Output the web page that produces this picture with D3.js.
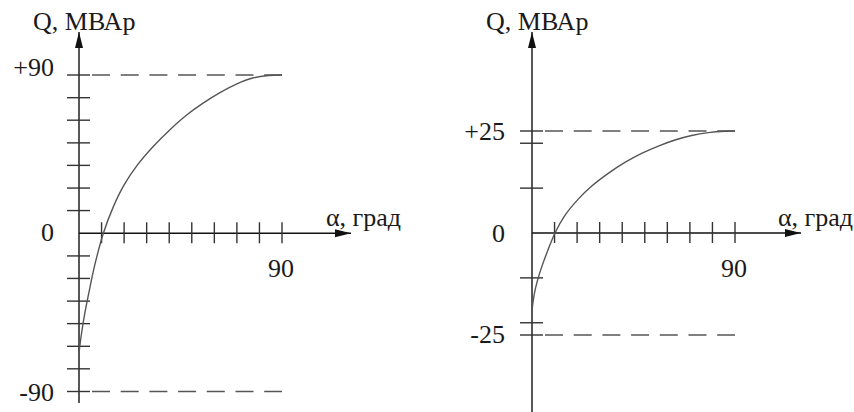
<!DOCTYPE html>
<html><head><meta charset="utf-8"><script src="https://cdn.jsdelivr.net/npm/d3@7"></script></head>
<body style="margin:0">
<svg id="chart" width="854" height="412"></svg>
<script>
// Reactive power Q versus angle α for two machines
const leftAlpha = [0, 1, 2.5, 4.5, 7, 10.8, 15.2, 20, 26, 33, 40, 48, 55, 62.5, 70, 77, 84, 90];
const leftQ     = [-68, -58, -46, -33, -18, 0, 15, 27.5, 39, 49.5, 58.5, 67.5, 74, 80, 85, 88.3, 89.7, 90];

const rightAlpha = [0, 1, 2.5, 4.5, 7, 10.2, 14.6, 20.5, 26.5, 33.8, 41.2, 48.6, 56, 63.4, 70.8, 78.2, 85.6, 90];
const rightQ     = [-19, -15, -11.5, -8, -4.3, 0, 4.3, 8.3, 11.5, 14.6, 17.3, 19.5, 21.3, 22.8, 23.9, 24.6, 24.95, 25];

// axis tick positions
const alphaTicks = [10, 20, 30, 40, 50, 60, 70, 80, 90];
const leftQTicks = [-90, -77.1, -64.3, -51.4, -38.6, -25.7, -12.9, 12.9, 25.7, 38.6, 51.4, 64.3, 77.1, 90];
const rightQTicks = [-25, -22, -11, 11, 22, 25];

// labels
const leftQLabels = ["+90", "0", "-90"];
const leftQLabelValues = [90, 0, -90];
const rightQLabels = ["+25", "0", "-25"];
const rightQLabelValues = [25, 0, -25];
const alphaLabel = "90";
const yTitle = "Q, МВАр";
const xTitle = "α, град";

const svg = d3.select("#chart");
const TEXT_SCALE = 26 / 24;

svg.append("defs").append("marker")
  .attr("id", "arrow")
  .attr("viewBox", "0 0 16 10")
  .attr("refX", 16).attr("refY", 5)
  .attr("markerWidth", 16).attr("markerHeight", 10)
  .attr("markerUnits", "userSpaceOnUse")
  .attr("orient", "auto")
  .append("path")
  .attr("d", "M0,1 L16,5 L0,9 Z")
  .attr("fill", "#111");

// all texts go straight into the svg root
const labels = [];
function label(x, y, t, anchor) {
  labels.push({ x, y, t, anchor: anchor || "start" });
}

function panel(cfg) {
  const x = d3.scaleLinear().domain([0, 90]).range(cfg.xRange);
  const y = d3.scaleLinear().domain(cfg.yDomain).range(cfg.yRange);
  const g = svg.append("g");
  const x0 = x(0), y0 = y(0);

  // dashed limit lines
  cfg.limits.forEach(v => {
    g.append("line")
      .attr("x1", x0 + 13).attr("x2", x(90))
      .attr("y1", y(v)).attr("y2", y(v))
      .attr("stroke", "#555").attr("stroke-width", 1.5)
      .attr("stroke-dasharray", "18,10.7");
  });

  // vertical axis
  g.append("line")
    .attr("x1", x0).attr("x2", x0)
    .attr("y1", cfg.yAxisBottom).attr("y2", 32)
    .attr("stroke", "#111").attr("stroke-width", 1.4)
    .attr("marker-end", "url(#arrow)");

  // horizontal axis
  g.append("line")
    .attr("x1", x0).attr("x2", cfg.xAxisEnd)
    .attr("y1", y0).attr("y2", y0)
    .attr("stroke", "#111").attr("stroke-width", 1.4)
    .attr("marker-end", "url(#arrow)");

  // Q ticks (cross the axis)
  g.selectAll(".qt").data(cfg.qTicks).enter().append("line")
    .attr("x1", x0 - 12).attr("x2", x0 + 11)
    .attr("y1", d => y(d)).attr("y2", d => y(d))
    .attr("stroke", "#333").attr("stroke-width", 1.4);

  // α ticks
  g.selectAll(".at").data(alphaTicks).enter().append("line")
    .attr("x1", d => x(d)).attr("x2", d => x(d))
    .attr("y1", y0 - 11).attr("y2", y0 + 10)
    .attr("stroke", "#333").attr("stroke-width", 1.4);

  // curve
  const line = d3.line()
    .x(d => x(d[0])).y(d => y(d[1]))
    .curve(d3.curveCatmullRom.alpha(0.5));
  g.append("path")
    .datum(cfg.alpha.map((a, i) => [a, cfg.q[i]]))
    .attr("d", line)
    .attr("fill", "none")
    .attr("stroke", "#555").attr("stroke-width", 1.4);

  cfg.qLabels.forEach((t, i) => {
    label(cfg.qLabelRight, y(cfg.qLabelValues[i]) + cfg.qLabelDy[i], t, "end");
  });
  label(x(90) - 1, y0 + 44, alphaLabel, "middle");
  label(x0 - 46, 30, yTitle);
  label(cfg.xTitleX, y0 - 7, xTitle);
}

panel({
  xRange: [79, 282], yDomain: [-90, 90], yRange: [391.5, 75],
  limits: [90, -90], qTicks: leftQTicks,
  alpha: leftAlpha, q: leftQ,
  yAxisBottom: 403, xAxisEnd: 351,
  qLabels: leftQLabels, qLabelValues: leftQLabelValues, qLabelDy: [1, 8, 9],
  qLabelRight: 54, xTitleX: 326
});

panel({
  xRange: [532, 735], yDomain: [-25, 25], yRange: [335, 131],
  limits: [25, -25], qTicks: rightQTicks,
  alpha: rightAlpha, q: rightQ,
  yAxisBottom: 412, xAxisEnd: 801,
  qLabels: rightQLabels, qLabelValues: rightQLabelValues, qLabelDy: [9, 9, 8],
  qLabelRight: 505, xTitleX: 778
});

svg.selectAll("text").data(labels).enter().append("text")
  .attr("transform", d => `translate(${d.x},${d.y}) scale(${TEXT_SCALE})`)
  .attr("text-anchor", d => d.anchor)
  .style("font-family", d => `"Liberation Serif"`)
  .style("font-size", "24px")
  .style("fill", "#1a1a1a")
  .text(d => d.t);
</script>
</body>
</html>
